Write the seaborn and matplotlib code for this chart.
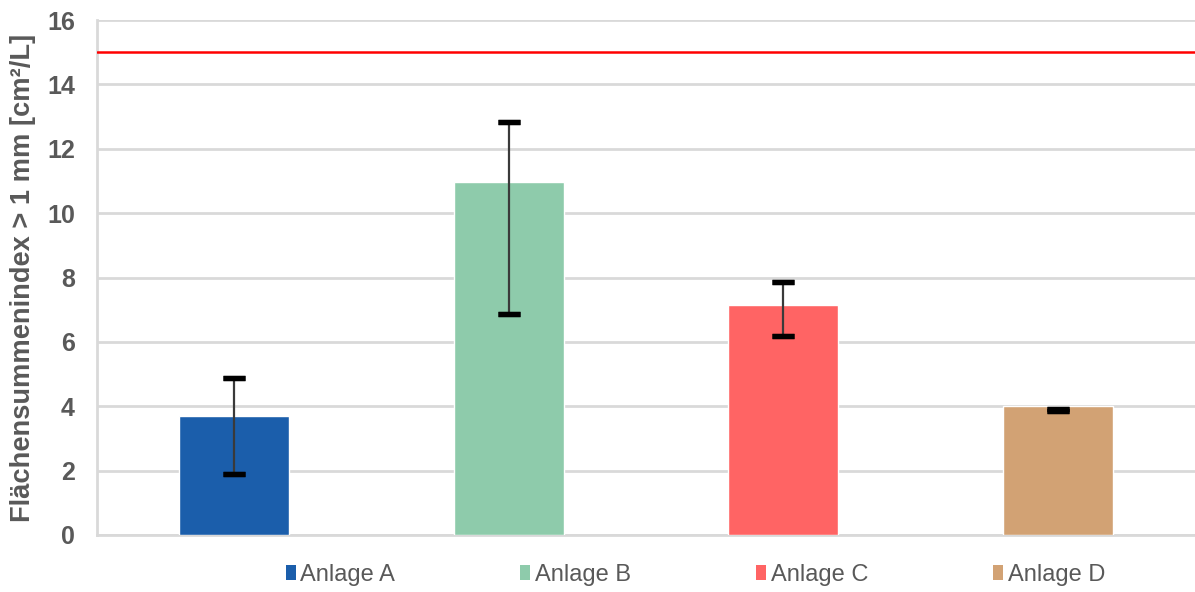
import matplotlib
matplotlib.use("Agg")
import matplotlib.pyplot as plt
import seaborn as sns
import pandas as pd
import numpy as np
from matplotlib.patches import Patch

# Plant names and measured area-sum index values
anlagen = ["Anlage A", "Anlage B", "Anlage C", "Anlage D"]
mittelwert = [3.70, 10.97, 7.14, 4.02]
minimum = [1.88, 6.88, 6.19, 3.86]
maximum = [4.88, 12.82, 7.85, 3.90]
farben = ["#1b5eab", "#8ecbab", "#ff6464", "#d2a274"]
grenzwert = 15
y_ticks = [0, 2, 4, 6, 8, 10, 12, 14, 16]

sns.set_theme(style="white")
plt.rcParams["font.family"] = ["Liberation Sans", "DejaVu Sans"]

df = pd.DataFrame({"Anlage": anlagen, "Wert": mittelwert})

fig = plt.figure(figsize=(11.95, 5.92), dpi=100)
ax = fig.add_axes([0.0812, 0.0963, 0.9188, 0.8699])

sns.barplot(data=df, x="Anlage", y="Wert", hue="Anlage", palette=farben,
            width=0.4, saturation=1, legend=False, ax=ax, zorder=3)

# min / max range: thin stem plus thick black caps
x = np.arange(len(anlagen))
ax.vlines(x, minimum, maximum, color="#3a3a3a", linewidth=1.6, zorder=4)
for ends in (minimum, maximum):
    ax.errorbar(x, ends, yerr=0, fmt="none", ecolor="black", capsize=8,
                capthick=3.8, elinewidth=0, zorder=5)

# limit line
ax.axhline(grenzwert, color="#ff0000", linewidth=1.8, zorder=6)

ax.set_ylim(0, 16)
ax.set_xlim(-0.5, 3.5)
ax.set_yticks(y_ticks)
ax.set_yticklabels([str(t) for t in y_ticks], fontsize=18, fontweight="bold",
                   color="#595959")
ax.set_xticks([])
ax.set_xlabel("")
ax.set_ylabel("Flächensummenindex > 1 mm [cm²/L]", fontsize=19.6,
              fontweight="bold", color="#595959", labelpad=8)
ax.yaxis.grid(True, color="#d9d9d9", linewidth=2, zorder=0)
ax.set_axisbelow(True)
ax.tick_params(axis="y", length=0, pad=16)

for side in ["top", "right"]:
    ax.spines[side].set_visible(False)
for side in ["left", "bottom"]:
    ax.spines[side].set_color("#d9d9d9")
    ax.spines[side].set_linewidth(2)

handles = [Patch(facecolor=c, edgecolor="none") for c in farben]
leg = fig.legend(handles, anlagen, loc="center", ncol=4,
                 bbox_to_anchor=(0.582, 0.029), frameon=False,
                 fontsize=17, handlelength=0.42, handleheight=0.55,
                 handletextpad=0.2, columnspacing=5.3)
for t in leg.get_texts():
    t.set_color("#595959")

fig.savefig("out.png", dpi=100)
